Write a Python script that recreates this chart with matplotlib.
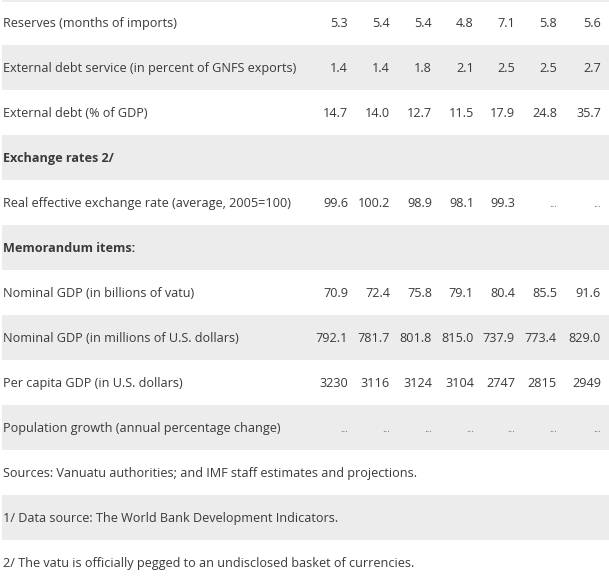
import matplotlib.pyplot as plt

labels = [
    "Reserves (months of imports)",
    "External debt service (in percent of GNFS exports)",
    "External debt (% of GDP)",
    "Exchange rates 2/",
    "Real effective exchange rate (average, 2005=100)",
    "Memorandum items:",
    "Nominal GDP (in billions of vatu)",
    "Nominal GDP (in millions of U.S. dollars)",
    "Per capita GDP (in U.S. dollars)",
    "Population growth (annual percentage change)",
    "Sources: Vanuatu authorities; and IMF staff estimates and projections.",
    "1/ Data source: The World Bank Development Indicators.",
    "2/ The vatu is officially pegged to an undisclosed basket of currencies.",
]
bold_rows = [3, 5]

reserves = ["5.3", "5.4", "5.4", "4.8", "7.1", "5.8", "5.6"]
debt_service = ["1.4", "1.4", "1.8", "2.1", "2.5", "2.5", "2.7"]
ext_debt = ["14.7", "14.0", "12.7", "11.5", "17.9", "24.8", "35.7"]
reer = ["99.6", "100.2", "98.9", "98.1", "99.3", "...", "..."]
gdp_vatu = ["70.9", "72.4", "75.8", "79.1", "80.4", "85.5", "91.6"]
gdp_usd = ["792.1", "781.7", "801.8", "815.0", "737.9", "773.4", "829.0"]
gdp_pc = ["3230", "3116", "3124", "3104", "2747", "2815", "2949"]
pop_growth = ["...", "...", "...", "...", "...", "...", "..."]

values = {0: reserves, 1: debt_service, 2: ext_debt, 4: reer,
          6: gdp_vatu, 7: gdp_usd, 8: gdp_pc, 9: pop_growth}

W, H = 609, 584
fig = plt.figure(figsize=(W / 100, H / 100), dpi=100)
ax = fig.add_axes([0, 0, 1, 1])
ax.set_xlim(0, W)
ax.set_ylim(H, 0)
ax.axis("off")

row_h = 45
col_right = [348, 390, 432, 474, 515, 557, 601]
txt = "#3a3a3a"
fs = 9.1
fam = "Open Sans"

ax.axhspan(0, 1.5, xmin=2 / W, xmax=1, color="#ececec", lw=0)
for i, lab in enumerate(labels):
    y0 = i * row_h
    if i % 2 == 1:
        ax.axhspan(y0, y0 + row_h, xmin=2 / W, xmax=1, color="#ececec", lw=0)
    yb = y0 + 27  # baseline
    ax.text(3, yb, lab, fontsize=fs, family=fam, color=txt, va="baseline",
            ha="left", fontweight="bold" if i in bold_rows else "normal")
    if i in values:
        for x, v in zip(col_right, values[i]):
            dots = v == "..."
            ax.text(x, yb, v, fontsize=fs - 2 if dots else fs, family=fam,
                    color="#777777" if dots else txt, va="baseline", ha="right")

fig.savefig("out.png", dpi=100, facecolor="white")
